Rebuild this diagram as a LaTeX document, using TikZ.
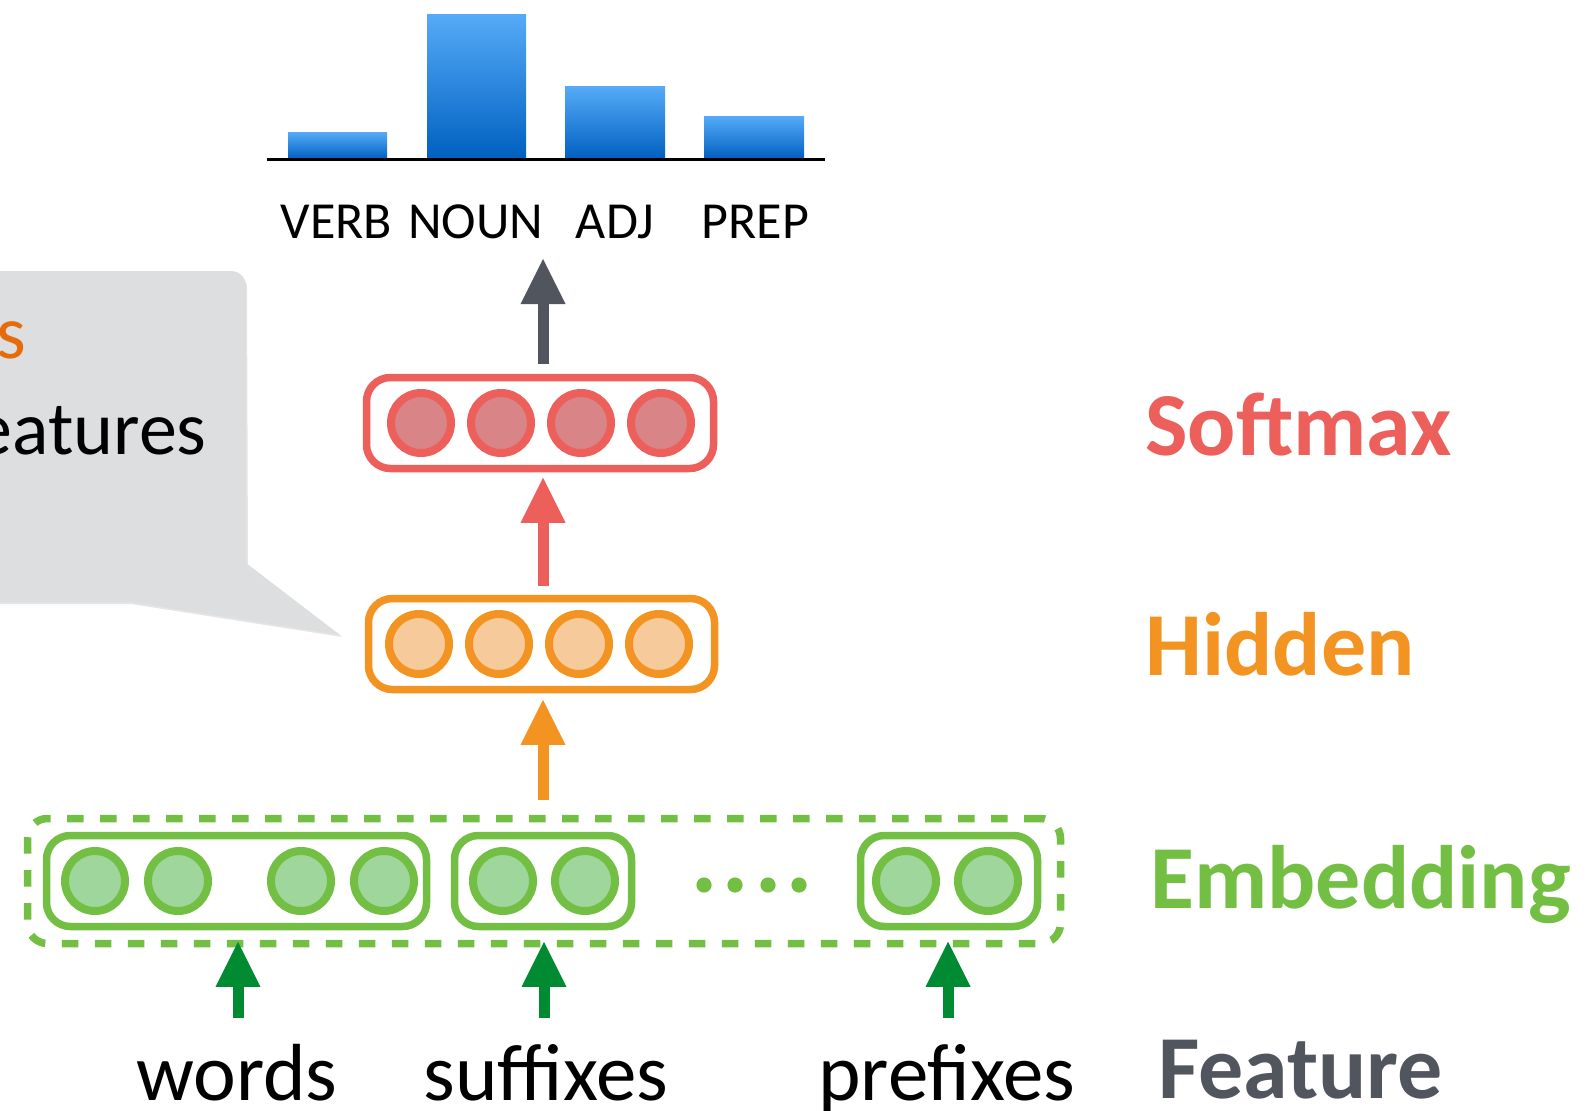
\documentclass[tikz,border=0pt]{standalone}
\usepackage{fontspec}
\setmainfont{Carlito}
\usetikzlibrary{arrows.meta}
\definecolor{smred}{HTML}{EC5F5A}
\definecolor{smfill}{HTML}{D98487}
\definecolor{hdorange}{HTML}{F39321}
\definecolor{hdfill}{HTML}{F6CA9B}
\definecolor{emgreen}{HTML}{72BF44}
\definecolor{emfill}{HTML}{9FD69B}
\definecolor{ftgreen}{HTML}{008A32}
\definecolor{slate}{HTML}{51565E}
\definecolor{bartop}{HTML}{56ABF8}
\definecolor{barbot}{HTML}{0060C0}
\definecolor{callgray}{HTML}{DDDEE0}
\definecolor{calltitle}{HTML}{E46C0A}
\begin{document}
\begin{tikzpicture}[x=0.5pt,y=-0.5pt,
  layerbox/.style={draw,line width=3.75pt,rounded corners=12pt,inner sep=0pt,
    minimum height=45.5pt},
  unit/.style={circle,draw,line width=4pt,minimum size=30pt,inner sep=0pt},
  uparrow/.style={line width=5.5pt,
    -{Triangle[width=22.5pt,length=22.5pt,line width=0pt]}},
  bar/.style={top color=bartop,bottom color=barbot},
  tag/.style={font=\fontsize{26pt}{26pt}\selectfont,anchor=base,inner sep=0pt},
  featname/.style={font=\fontsize{40.5pt}{40pt}\selectfont,anchor=base,inner sep=0pt},
  layername/.style={font=\fontsize{45pt}{45pt}\selectfont\bfseries,anchor=base west,inner sep=0pt}]
\useasboundingbox (0,0) rectangle (1591,1110);
\clip (0,0) rectangle (1591,1110);

% call-out bubble (runs off the left edge)
\fill[black!20,opacity=0.5] (-20,273) -- (232,273) arc[start angle=90,end angle=0,radius=7.5pt]
  -- (248,565) -- (342,637) -- (131,604) -- (-20,604) -- cycle;
\fill[callgray] (-20,271) -- (231,271) arc[start angle=90,end angle=0,radius=7.5pt]
  -- (246,563) -- (340,635) -- (130,602) -- (-20,602) -- cycle;
\node[anchor=base east,inner sep=0pt,text=calltitle,font=\fontsize{38pt}{38pt}\selectfont]
  (calltitle) at (27,358) {s};
\node[anchor=base east,inner sep=0pt,font=\fontsize{38pt}{38pt}\selectfont]
  (callbody) at (207,454) {eatures};

% output distribution
\shade[bar] (288,132) rectangle (387,159);
\shade[bar] (427,14) rectangle (526,159);
\shade[bar] (565,86) rectangle (665,159);
\shade[bar] (704,116) rectangle (804,159);
\draw[line width=1.5pt] (267,159.5) -- (825,159.5);
\node[tag] (verb) at (336.5,238) {VERB};
\node[tag] (noun) at (475.5,238) {NOUN};
\node[tag] (adj)  at (615,238) {ADJ};
\node[tag] (prep) at (755.5,238) {PREP};
\coordinate (outtip) at (543,259);

% softmax layer
\node[layerbox,draw=smred,minimum width=173.5pt] (softmax) at (540,423) {};
\foreach \i/\x in {1/421,2/501,3/581,4/661}
  \node[unit,draw=smred,fill=smfill] (s\i) at (\x,423) {};

% hidden layer
\node[layerbox,draw=hdorange,minimum width=173pt] (hidden) at (541.5,644) {};
\foreach \i/\x in {1/419,2/499,3/579,4/659}
  \node[unit,draw=hdorange,fill=hdfill] (h\i) at (\x,644) {};

% embedding layer
\node[draw=emgreen,line width=3.75pt,dash pattern=on 8.25pt off 8.25pt,rounded corners=10pt,
  inner sep=0pt,minimum width=516.5pt,minimum height=62.5pt] (embed) at (544,881) {};
\node[layerbox,draw=emgreen,minimum width=190pt] (wbox) at (236.5,881) {};
\node[layerbox,draw=emgreen,minimum width=88.5pt] (sbox) at (543,881) {};
\node[layerbox,draw=emgreen,minimum width=88.5pt] (pbox) at (949,881) {};
\foreach \i/\x in {1/95,2/178,3/301,4/384,5/503,6/585,7/906,8/988}
  \node[unit,draw=emgreen,fill=emfill] (e\i) at (\x,881) {};
\foreach \i/\x in {1/704,2/735,3/768,4/799}
  \fill[emgreen] (\x,885) circle[radius=3.8pt];

% input features
\node[featname] (words)    at (237,1100) {words};
\node[featname] (suffixes) at (546,1100) {suffixes};
\node[featname] (prefixes) at (947,1100) {prefixes};
\coordinate (win) at (238,1018);
\coordinate (sin) at (544,1018);
\coordinate (pin) at (948,1018);

% layer names
\node[layername,text=smred]    (lsoft)  at (1145,455) {Softmax};
\node[layername,text=hdorange] (lhid)   at (1145,675) {Hidden};
\node[layername,text=emgreen]  (lemb)   at (1150,908) {Embedding};
\node[layername,text=slate]    (lfeat)  at (1158,1098) {Feature};

% connections
\draw[uparrow,draw=slate,fill=slate,shorten <=4.75pt] (softmax.north -| outtip) -- (outtip);
\draw[uparrow,draw=smred,fill=smred,shorten <=4.25pt,shorten >=2.75pt]
  (hidden.north -| outtip) -- (softmax.south -| outtip);
\draw[uparrow,draw=hdorange,fill=hdorange,shorten <=7.25pt,shorten >=3.25pt]
  (embed.north -| outtip) -- (hidden.south -| outtip);
\draw[uparrow,draw=ftgreen,fill=ftgreen,shorten >=5.75pt] (win) -- (wbox.south -| win);
\draw[uparrow,draw=ftgreen,fill=ftgreen,shorten >=5.75pt] (sin) -- (sbox.south -| sin);
\draw[uparrow,draw=ftgreen,fill=ftgreen,shorten >=5.75pt] (pin) -- (pbox.south -| pin);
\end{tikzpicture}
\end{document}
